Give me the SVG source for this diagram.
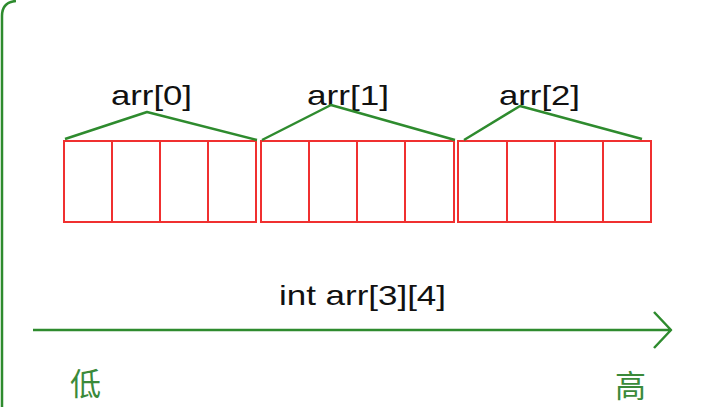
<svg xmlns="http://www.w3.org/2000/svg" width="703" height="407" viewBox="0 0 703 407">
<style>
.cell{fill:none;stroke:#f03030;stroke-width:2}
.g{fill:none;stroke:#2e8b2e;stroke-width:2.5;stroke-linejoin:round}
.lbl{font-family:"Liberation Sans",Arial,sans-serif;font-size:28px;fill:#111}
.cjk{font-family:"Noto Sans CJK SC",sans-serif;font-size:31px;fill:#3a8a3a}
</style>
<rect width="703" height="407" fill="#fff"/>
<path class="g" d="M2,407 V16 Q2,2 16,1"/>
<g id="row0">
<rect class="cell" x="64" y="141" width="192" height="81"/>
<path class="cell" d="M112,141V222M160,141V222M208,141V222"/>
<text class="lbl" x="111" y="105" textLength="81" lengthAdjust="spacingAndGlyphs">arr[0]</text>
</g>
<g id="row1">
<rect class="cell" x="261" y="141" width="193" height="81"/>
<path class="cell" d="M309,141V222M357,141V222M405,141V222"/>
<text class="lbl" x="307" y="105" textLength="82" lengthAdjust="spacingAndGlyphs">arr[1]</text>
</g>
<g id="row2">
<rect class="cell" x="458" y="141" width="193" height="81"/>
<path class="cell" d="M507,141V222M555,141V222M603,141V222"/>
<text class="lbl" x="499" y="105" textLength="81" lengthAdjust="spacingAndGlyphs">arr[2]</text>
</g>
<g id="connectors">
<path class="g" d="M65,139 L147,112 L257,140"/>
<path class="g" d="M262,140 L331,105 L455,140"/>
<path class="g" d="M464,140 L520,106 L642,139"/>
<path class="g" d="M33,330 H671 M654,312 L671,330 L654,348"/>
</g>
<text class="lbl" x="279" y="305" textLength="167" lengthAdjust="spacingAndGlyphs">int arr[3][4]</text>
<text class="cjk" x="70" y="395">低</text>
<text class="cjk" x="615" y="397">高</text>
</svg>
